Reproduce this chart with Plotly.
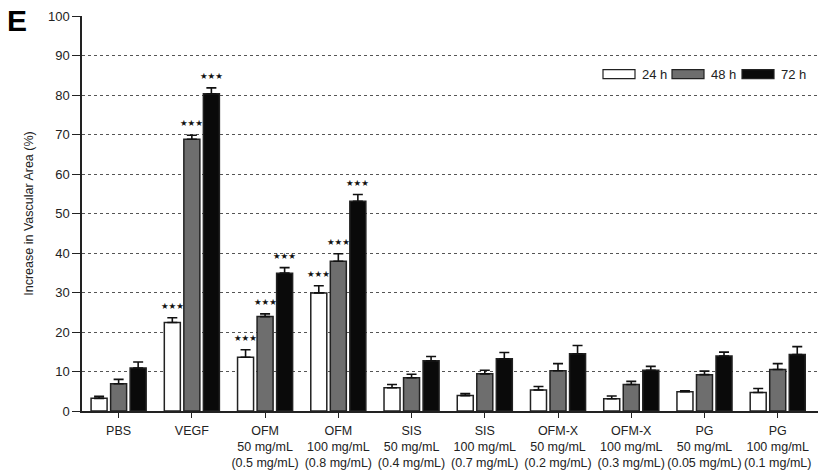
import plotly.graph_objects as go

categories = ["PBS", "VEGF", "OFM<br>50 mg/mL<br>(0.5 mg/mL)", "OFM<br>100 mg/mL<br>(0.8 mg/mL)",
              "SIS<br>50 mg/mL<br>(0.4 mg/mL)", "SIS<br>100 mg/mL<br>(0.7 mg/mL)",
              "OFM-X<br>50 mg/mL<br>(0.2 mg/mL)", "OFM-X<br>100 mg/mL<br>(0.3 mg/mL)",
              "PG<br>50 mg/mL<br>(0.05 mg/mL)", "PG<br>100 mg/mL<br>(0.1 mg/mL)"]

series_names = ["24 h", "48 h", "72 h"]
values_24h = [3.2, 22.4, 13.6, 29.9, 5.9, 3.9, 5.3, 3.1, 4.9, 4.7]
values_48h = [6.9, 68.8, 23.9, 37.9, 8.4, 9.4, 10.2, 6.7, 9.2, 10.5]
values_72h = [10.9, 80.3, 34.9, 53.1, 12.7, 13.2, 14.5, 10.3, 13.9, 14.3]
err_24h = [0.5, 1.2, 1.9, 1.8, 0.8, 0.5, 0.9, 0.7, 0.2, 1.0]
err_48h = [1.1, 1.0, 0.7, 1.9, 0.9, 0.9, 1.8, 0.8, 0.9, 1.5]
err_72h = [1.5, 1.5, 1.4, 1.7, 1.1, 1.6, 2.1, 1.0, 1.0, 2.0]
sig_24h = ["", "***", "***", "***", "", "", "", "", "", ""]
sig_48h = ["", "***", "***", "***", "", "", "", "", "", ""]
sig_72h = ["", "***", "***", "***", "", "", "", "", "", ""]

fills = ["#ffffff", "#6e6e6e", "#0a0a0a"]
x_idx = list(range(len(categories)))
FONT = "Liberation Sans, Arial, sans-serif"

W, H = 822, 474
ML, MR, MT, MB = 82, 4, 16, 60
PW, PH = W - ML - MR, H - MT - MB

fig = go.Figure()
all_vals = [values_24h, values_48h, values_72h]
all_err = [err_24h, err_48h, err_72h]
all_sig = [sig_24h, sig_48h, sig_72h]
for name, vals, errs, fc in zip(series_names, all_vals, all_err, fills):
    fig.add_trace(go.Bar(
        x=x_idx, y=vals, name=name, showlegend=False,
        marker=dict(color=fc, line=dict(color="#222222", width=1.5)),
        error_y=dict(type="data", symmetric=False, array=errs, arrayminus=[0] * len(errs),
                     color="#111111", thickness=1.6, width=5),
    ))

# significance stars
slot = 0.8 / 3
for k, (vals, errs, sigs) in enumerate(zip(all_vals, all_err, all_sig)):
    off = (k - 1) * slot
    for i, s in enumerate(sigs):
        if s:
            fig.add_annotation(x=i + off, y=vals[i] + errs[i], text="★" * len(s), showarrow=False,
                               xref="x", yref="y", yanchor="bottom", yshift=5,
                               font=dict(family="DejaVu Sans", size=8.5, color="#111"))

# panel letter
fig.add_annotation(x=0, y=1, xref="paper", yref="paper", text="<b>E</b>", showarrow=False,
                   xanchor="left", yanchor="top", xshift=-77, yshift=14,
                   font=dict(family=FONT, size=30, color="#000"))

# legend (placed in pixel positions relative to the figure)
def px(x):
    return (x - ML) / PW

def py(y):
    return (MT + PH - y) / PH

leg_rect_x = [603, 672, 742]
leg_text_x = [640, 709, 779]
for name, fc, rx, tx in zip(series_names, fills, leg_rect_x, leg_text_x):
    fig.add_shape(type="rect", xref="paper", yref="paper",
                  x0=px(rx), x1=px(rx + 32), y0=py(79), y1=py(70),
                  fillcolor=fc, line=dict(color="#222", width=1.2))
    fig.add_annotation(x=px(tx), y=py(74.5), xref="paper", yref="paper", text=name,
                       showarrow=False, xanchor="left", yanchor="middle",
                       font=dict(family=FONT, size=13, color="#222"))

fig.update_layout(
    width=W, height=H,
    margin=dict(l=ML, r=MR, t=MT, b=MB),
    paper_bgcolor="white", plot_bgcolor="white",
    barmode="group", bargap=0.2, bargroupgap=0.18,
    font=dict(family=FONT, size=13, color="#222"),
    showlegend=False,
)
fig.update_xaxes(range=[-0.5, 9.55], tickvals=x_idx, ticktext=categories,
                 showline=True, linecolor="#222", linewidth=1.5,
                 ticks="outside", ticklen=5, tickcolor="#222", ticklabelstandoff=2,
                 tickfont=dict(size=12.5, color="#222"), showgrid=False, zeroline=False)
fig.update_yaxes(range=[0, 100], dtick=10, showline=True, linecolor="#222", linewidth=1.5,
                 ticks="outside", ticklen=8, tickcolor="#222",
                 showgrid=True, gridcolor="#555", griddash="dot", gridwidth=1,
                 zeroline=False, tickfont=dict(size=13, color="#222"),
                 title=dict(text="Increase in Vascular Area (%)", font=dict(size=12.5, color="#222"),
                            standoff=12))
fig.write_html("out.html", config={"displayModeBar": False},
               post_script="document.body.style.margin='0';")
